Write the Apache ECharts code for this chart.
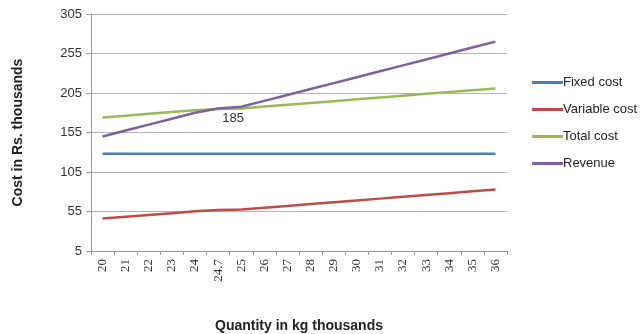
<!DOCTYPE html>
<html><head><meta charset="utf-8">
<script src="https://cdn.jsdelivr.net/npm/echarts@6/dist/echarts.min.js"></script>
<style>html,body{margin:0;padding:0;background:#fff}#c{width:644px;height:334px}</style>
</head><body><div id="c"></div>
<script>
const categories = ['20','21','22','23','24','24.7','25','26','27','28','29','30','31','32','33','34','35','36'];
const fixedCost = [128,128,128,128,128,128,128,128,128,128,128,128,128,128,128,128,128,128];
const variableCost = [46,48.3,50.6,52.9,55.2,56.8,57.5,59.8,62.1,64.4,66.7,69,71.3,73.6,75.9,78.2,80.5,82.8];
const totalCost = [174,176.3,178.6,180.9,183.2,184.8,185.5,187.8,190.1,192.4,194.7,197,199.3,201.6,203.9,206.2,208.5,210.8];
const revenue = [150,157.5,165,172.5,180,185.25,187.5,195,202.5,210,217.5,225,232.5,240,247.5,255,262.5,270];
const breakEvenIndex = 5;
const breakEvenLabel = '185';

const chart = echarts.init(document.getElementById('c'));
function mk(name, data, color) {
  return {name, type:'line', data, symbol:'circle', symbolSize:0, showSymbol:true,
    lineStyle:{color, width:2.5}, itemStyle:{color}, animation:false, emphasis:{disabled:true}};
}
const rev = mk('Revenue', revenue.map((v,i)=> i===breakEvenIndex ? {value:v,
  label:{show:true, position:'bottom', distance:3, offset:[15,0], formatter:breakEvenLabel, color:'#333', fontSize:13, fontFamily:'Liberation Sans'}} : v), '#7d60a0');
chart.setOption({
  animation:false,
  grid:{left:91, right:137, top:14, bottom:83, outerBoundsMode:'none', containLabel:false},
  legend:{orient:'vertical', left:527, top:71, itemGap:14, itemWidth:31, itemHeight:3,
    icon:'rect', textStyle:{fontSize:13, color:'#222', fontFamily:'Liberation Sans', padding:[0,0,0,-5]},
    data:['Fixed cost','Variable cost','Total cost','Revenue']},
  xAxis:{type:'category', data:categories, boundaryGap:true,
    name:'Quantity in kg thousands', nameLocation:'middle', nameGap:68,
    nameTextStyle:{fontSize:14, fontWeight:'bold', color:'#222', fontFamily:'Liberation Sans'},
    axisLine:{lineStyle:{color:'#999'}}, axisTick:{show:true, length:4, lineStyle:{color:'#999'}},
    axisLabel:{rotate:90, fontSize:13, color:'#333', fontFamily:'Liberation Serif', margin:8}},
  yAxis:{type:'value', min:5, max:305, interval:50,
    name:'Cost in Rs. thousands', nameLocation:'middle', nameGap:66, nameRotate:90,
    nameTextStyle:{fontSize:14, fontWeight:'bold', color:'#222', fontFamily:'Liberation Sans'},
    axisLine:{show:true, lineStyle:{color:'#999'}}, axisTick:{show:true, length:5, lineStyle:{color:'#999'}},
    axisLabel:{fontSize:13, color:'#333', fontFamily:'Liberation Sans', margin:9},
    splitLine:{lineStyle:{color:'#b4b4b4', width:1}}},
  series:[mk('Fixed cost', fixedCost, '#4a7ebb'), mk('Variable cost', variableCost, '#be4b48'),
    mk('Total cost', totalCost, '#98b954'), rev]
});
</script></body></html>
